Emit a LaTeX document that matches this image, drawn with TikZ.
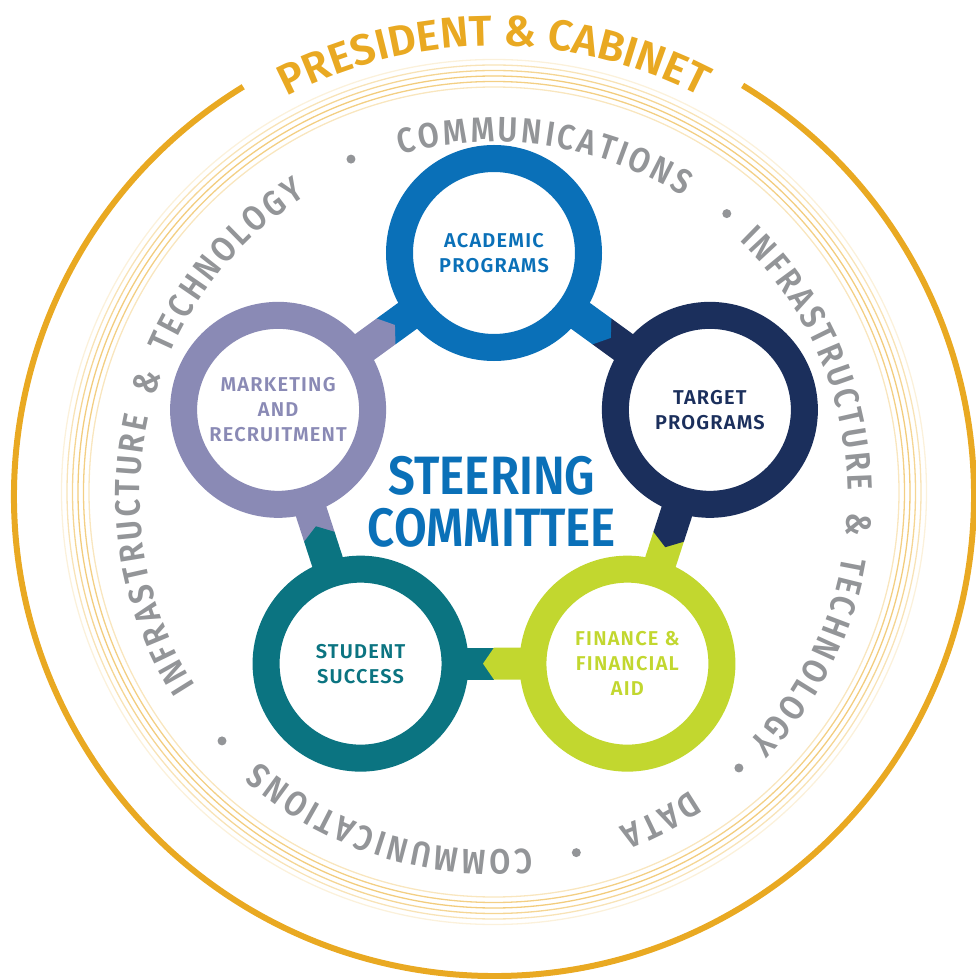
\documentclass[tikz,border=0pt]{standalone}
\usepackage{fontspec}
\setmainfont{Fira Sans}
\newfontfamily\labelfont{Fira Sans SemiBold}[LetterSpace=6]
\newfontfamily\bigfont{Fira Sans SemiBold}[FakeStretch=0.88]
\newfontfamily\ringfont{Fira Sans SemiBold}[FakeStretch=0.87]
\newfontfamily\titlefont{Fira Sans SemiBold}
\usetikzlibrary{calc,decorations.text,backgrounds}

\definecolor{acadblue}{HTML}{0A70B8}
\definecolor{targetnavy}{HTML}{1B2F5C}
\definecolor{finlime}{HTML}{C2D72F}
\definecolor{studteal}{HTML}{0B7481}
\definecolor{marklav}{HTML}{8A8AB5}
\definecolor{capgold}{HTML}{E9A922}
\definecolor{ringgray}{HTML}{939598}

\tikzstyle{ring}=[circle, draw, line width=27pt, fill=white, minimum size=189pt, inner sep=0pt, align=center, font=\labelfont\fontsize{20}{25}\selectfont]
\tikzstyle{band}=[capgold!65, line width=1.3pt]
\tikzstyle{dot}=[fill=ringgray]

\newcommand\ringtext{\ringfont\fontsize{35}{35}\selectfont\color{ringgray}\kern3pt}
\newcommand\titletext{\titlefont\fontsize{43}{43}\selectfont\color{capgold}}
\newcommand\gap{\kern5pt}

% stem between two rings, #3 points into #4
\newcommand\stem[4]{%
  \coordinate (m) at ($(#1.center)!0.5!(#2.center)$);
  \fill[#4] ($(m)!16pt!90:(#2.center)$) -- ($(#2.center)!16pt!-90:(m)$)
    -- ($(#2.center)!16pt!90:(m)$) -- ($(m)!16pt!-90:(#2.center)$) -- cycle;
  \fill[#3] ($(#1.center)!16pt!90:(m)$) -- ($(m)!16pt!90:(#2.center)$)
    -- ($(m)!11pt!(#2.center)$) -- ($(m)!16pt!-90:(#2.center)$)
    -- ($(#1.center)!16pt!-90:(m)$) -- cycle;
}

\begin{document}
\begin{tikzpicture}[x=1pt,y=1pt]
    \useasboundingbox (-494,-483) rectangle (482,496);

    % Cabinet
    \draw[capgold, line width=6pt] (121.5:480) arc[start angle=121.5, end angle=418.8, radius=480];
    \path[decorate, decoration={text along path, text align=center,
        text={|\titletext|PRESIDENT {\&} CABINET}}]
        (130:450) arc[start angle=130, end angle=50, radius=450];
    \foreach \r/\o in {405/.45, 410.5/.85, 416/.9, 421.5/.75, 427/.5, 432.5/.25}
        \draw[band, opacity=\o] (0,4) circle (\r);

    % Support
    \path[decorate, decoration={text along path, text align=center,
        text={|\ringtext|COMMUNICATIONS}}]
        (113:354) arc[start angle=113, end angle=50.5, radius=354];
    \path[decorate, decoration={text along path, text align=center,
        text={|\ringtext|INFRASTRUCTURE {\gap}{\&}{\gap} TECHNOLOGY}}]
        (50.5:354) arc[start angle=50.5, end angle=-48, radius=354];
    \path[decorate, decoration={text along path, text align=center,
        text={|\ringtext|DATA}}]
        (-48:354) arc[start angle=-48, end angle=-77, radius=354];
    \path[decorate, decoration={text along path, text align=center,
        text={|\ringtext|COMMUNICATIONS}}]
        (-77:354) arc[start angle=-77, end angle=-138, radius=354];
    \path[decorate, decoration={text along path, text align=center,
        text={|\ringtext|INFRASTRUCTURE {\gap}{\&}{\gap} TECHNOLOGY}}]
        (-138:354) arc[start angle=-138, end angle=-247, radius=354];
    \foreach \a in {113,50.5,-48,-77,-138}
        \fill[dot] (\a:366) circle (4.5);

    % Committees
    \coordinate (hub) at (0,16);
    \node[ring, draw=acadblue, text=acadblue] (acad) at ($(hub)+(90:227)$) {ACADEMIC\\PROGRAMS};
    \node[ring, draw=targetnavy, text=targetnavy] (target) at ($(hub)+(18:227)$) {TARGET\\PROGRAMS};
    \node[ring, draw=finlime, text=finlime] (fin) at ($(hub)+(-54:227)$) {FINANCE \&\\FINANCIAL\\AID};
    \node[ring, draw=studteal, text=studteal] (stud) at ($(hub)+(-126:227)$) {STUDENT\\SUCCESS};
    \node[ring, draw=marklav, text=marklav] (mark) at ($(hub)+(162:227)$) {MARKETING\\AND\\RECRUITMENT};
    \node[text=acadblue, align=center, font=\bigfont\fontsize{54}{52}\selectfont] (steer) at (-2,-6) {STEERING\\COMMITTEE};

    % Links
    \begin{scope}[on background layer]
        \stem{acad}{target}{acadblue}{targetnavy}
        \stem{target}{fin}{targetnavy}{finlime}
        \stem{fin}{stud}{finlime}{studteal}
        \stem{stud}{mark}{studteal}{marklav}
        \stem{mark}{acad}{marklav}{acadblue}
    \end{scope}
\end{tikzpicture}
\end{document}
